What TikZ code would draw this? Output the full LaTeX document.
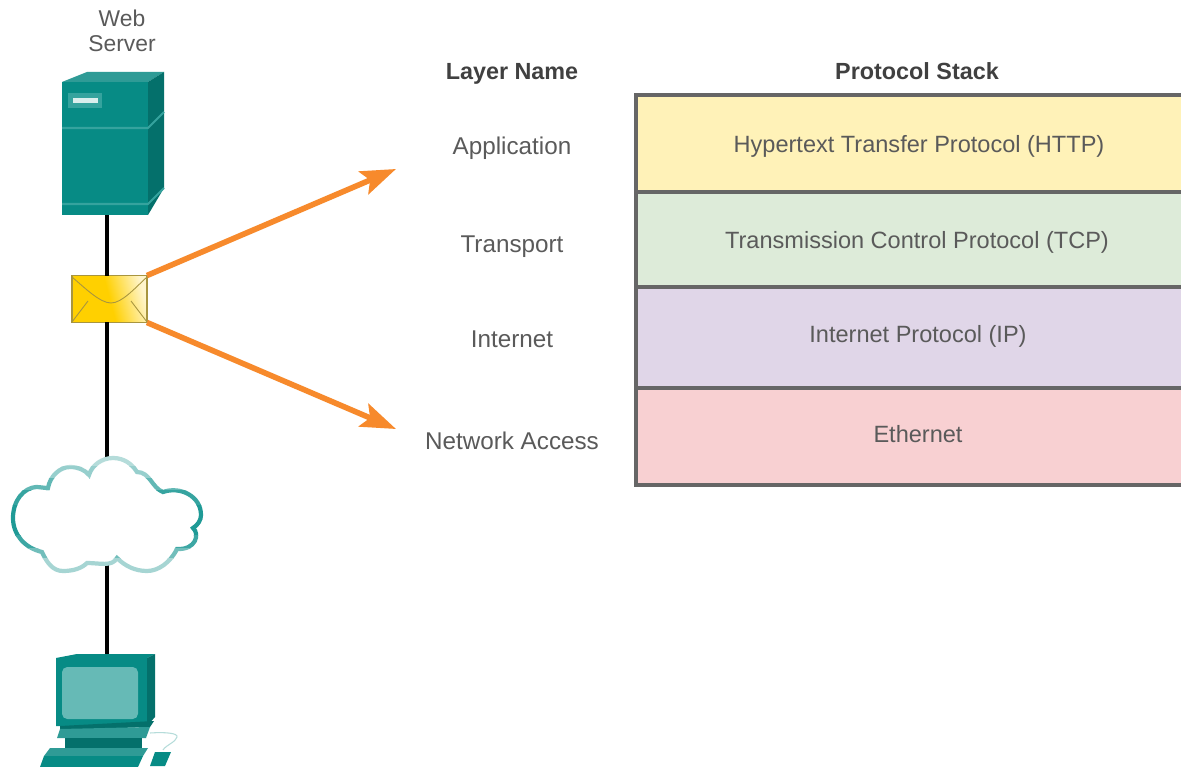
\documentclass[tikz,border=0pt]{standalone}
\usepackage{xcolor}
\usepackage{fontspec}
\setmainfont{Liberation Sans}
\usetikzlibrary{arrows.meta}
\definecolor{tealfront}{HTML}{078B85}
\definecolor{tealside}{HTML}{04706B}
\definecolor{tealtop}{HTML}{2F9B96}
\definecolor{tealband}{HTML}{35A39E}
\definecolor{tealscreen}{HTML}{66BAB6}
\definecolor{cloudpale}{HTML}{B5DCDA}
\definecolor{clouddark}{HTML}{1F9A96}
\definecolor{arroworange}{HTML}{F78A2C}
\definecolor{textgray}{HTML}{5A5A5A}
\definecolor{rowborder}{HTML}{666666}
\definecolor{rowyellow}{HTML}{FFF2B8}
\definecolor{rowgreen}{HTML}{DDEBD9}
\definecolor{rowpurple}{HTML}{E0D6E8}
\definecolor{rowred}{HTML}{F8D0D2}
\definecolor{mailgold}{HTML}{FFD000}
\definecolor{mailpale}{HTML}{FFF5CC}
\definecolor{mailline}{HTML}{A8953F}
\tikzset{
  labeltext/.style={font=\fontsize{13.8}{16.5}\selectfont, text=textgray, align=center, inner sep=0pt},
  headtext/.style={labeltext, font=\fontsize{13.3}{16}\selectfont\bfseries, text=black!75},
  stackrow/.style={draw=rowborder, line width=2pt, minimum width=11.28cm, inner sep=0pt, outer sep=0pt},
  stacktext/.style={font=\fontsize{13.4}{16}\selectfont, text=textgray, inner sep=0pt},
  netlink/.style={line width=2.4pt, black},
  callout/.style={line width=3.2pt, arroworange, -{Stealth[length=20pt,width=14pt,inset=4pt]}}
}
\newcommand{\cloudoutline}{(13,518) .. controls (13,500) and (24,488) .. (36,487)
  .. controls (40,487) and (44,488) .. (48,488)
  .. controls (50,476) and (60,467) .. (70,467) .. controls (78,467) and (85,470) .. (89,475)
  .. controls (92,465) and (102,458) .. (113,458) .. controls (124,458) and (132,464) .. (137,472)
  .. controls (150,472) and (152,488) .. (163,492)
  .. controls (180,486) and (201,496) .. (201,515) .. controls (201,520) and (198,525) .. (193,528)
  .. controls (200,534) and (196,550) .. (177,549)
  .. controls (170,563) and (158,571) .. (147,571) .. controls (135,571) and (125,566) .. (117,558)
  .. controls (112,567) and (100,563) .. (87,563)
  .. controls (82,568) and (74,571) .. (63,571) .. controls (53,571) and (47,563) .. (42,552)
  .. controls (25,548) and (13,535) .. (13,518) -- cycle}
\begin{document}
\begin{tikzpicture}[x=0.02cm, y=-0.02cm]
        \clip (0,0) rectangle (1181,767);
        \fill[white] (0,0) rectangle (1181,767);

        % Anchor points on the devices
        \coordinate (serverbase) at (107,212);
        \coordinate (cloudtop) at (107,462);
        \coordinate (cloudbase) at (107,565);
        \coordinate (pctop) at (107,656);
        \coordinate (apptip) at (396,169);
        \coordinate (nettip) at (396,429);

        % Envelope
        \node[draw=mailline, line width=0.8pt, minimum width=1.5cm, minimum height=0.94cm, inner sep=0pt, outer sep=0pt,
          top color=mailpale, bottom color=mailgold, middle color=mailgold, shading angle=-75] (mail) at (109.5,299) {};
        \draw[mailline, line width=0.5pt] (72,277) .. controls (85,288) and (100,303) .. (111,303)
          .. controls (122,303) and (135,288) .. (147,277);
        \draw[mailline, line width=0.5pt] (72,322) -- (88,301) (147,322) -- (131,301);

        % Links between devices
        \draw[netlink] (serverbase) -- (mail.north -| serverbase);
        \draw[netlink] (mail.south -| serverbase) -- (cloudtop);
        \draw[netlink] (cloudbase) -- (pctop);

        % Arrows from envelope to the layers
        \draw[callout] (mail.north east) -- (apptip);
        \draw[callout] (mail.south east) -- (nettip);

        % Server
        \fill[tealfront] (62,82) rectangle (148,215);
        \fill[tealtop] (62,82) -- (87,72) -- (164,72) -- (148,82) -- cycle;
        \fill[tealside] (148,82) -- (164,72) -- (164,188) -- (148,215) -- cycle;
        \draw[tealband, line width=1.2pt] (62,128) -- (148,128) -- (164,112);
        \draw[tealband, line width=1.2pt] (62,204) -- (148,204) -- (164,188);
        \fill[tealband] (68,93) rectangle (102,108);
        \fill[white!85!tealfront] (73,98) rectangle (98,103);

        % Cloud, darker towards its waist
        \fill[white] \cloudoutline;
        \foreach \ya/\yb/\shadepct in {450/466/0, 466/478/20, 478/490/55, 490/505/85, 505/535/100, 535/548/80, 548/558/45, 558/580/10}{
          \begin{scope}
            \clip (0,\ya) rectangle (220,\yb);
            \draw[clouddark!\shadepct!cloudpale, line width=2.4pt] \cloudoutline;
          \end{scope}
        }

        % Computer
        \draw[cloudpale, line width=0.6pt] (150,733) .. controls (165,732) and (178,733) .. (177,737) .. controls (176,742) and (166,745) .. (163,750);
        \fill[tealfront] (56,658) -- (77,654) -- (155,654) -- (147,658) -- (147,726) -- (56,726) -- cycle;
        \fill[tealside] (147,658) -- (155,654) -- (155,717) -- (147,726) -- cycle;
        \fill[tealscreen, rounded corners=3pt] (62,667) rectangle (138,719);
        \fill[tealside] (60,726) -- (154,721) -- (150,727) -- (60,730) -- cycle;
        \fill[tealtop] (60,729) -- (150,727) -- (146,738) -- (57,738) -- cycle;
        \fill[tealside] (65,738) rectangle (142,750);
        \fill[tealtop] (50,748) -- (148,748) -- (143,756) -- (44,756) -- cycle;
        \fill[tealfront] (44,756) -- (143,756) -- (138,767) -- (40,767) -- cycle;
        \fill[tealfront] (155,752) -- (171,752) -- (165,766) -- (150,766) -- cycle;

        % Device and column labels
        \node[labeltext, font=\fontsize{13}{14.5}\selectfont] (webserver) at (122,31) {Web\\Server};
        \node[headtext] (layerhead) at (512,74) {Layer Name};
        \node[headtext] (stackhead) at (917,71) {Protocol Stack};

        % Layer names
        \node[labeltext] (application) at (512,148) {Application};
        \node[labeltext] (transport) at (512,247) {Transport};
        \node[labeltext] (internet) at (512,339) {Internet};
        \node[labeltext] (netaccess) at (512,441) {Network Access};

        % Protocol stack rows
        \node[stackrow, fill=rowyellow, minimum height=1.94cm] (httprow) at (918,143.5) {};
        \node[stackrow, fill=rowgreen, minimum height=1.90cm] (tcprow) at (918,239.5) {};
        \node[stackrow, fill=rowpurple, minimum height=2.02cm] (iprow) at (918,337.5) {};
        \node[stackrow, fill=rowred, minimum height=1.94cm] (ethrow) at (918,436.5) {};
        \node[stacktext] (httptext) at (919,146) {Hypertext Transfer Protocol (HTTP)};
        \node[stacktext] (tcptext) at (917,242) {Transmission Control Protocol (TCP)};
        \node[stacktext] (iptext) at (918,336) {Internet Protocol (IP)};
        \node[stacktext] (ethtext) at (918,434) {Ethernet};
\end{tikzpicture}
\end{document}
